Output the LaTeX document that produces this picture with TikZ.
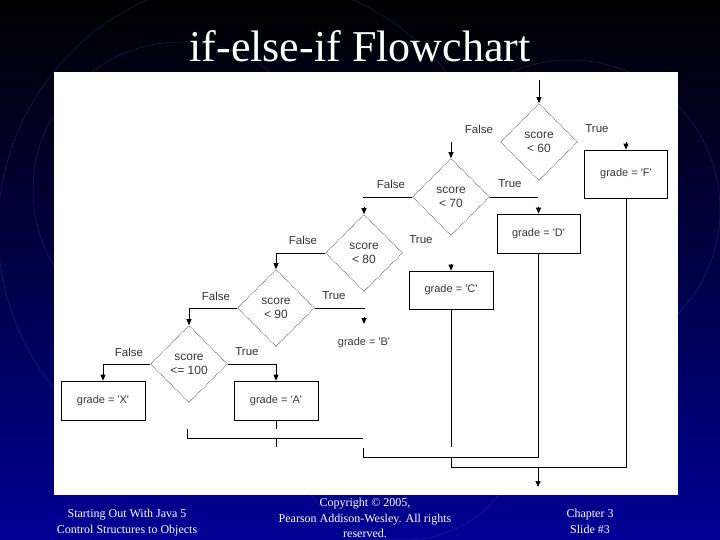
\documentclass[tikz,border=0pt]{standalone}
\usepackage{fontspec}
\setmainfont{Liberation Serif}
\newfontfamily\lsans{Liberation Sans}
\usetikzlibrary{shapes.geometric,arrows.meta}
\newcommand\qq{\textquotesingle}
\definecolor{navy}{RGB}{0,0,150}
\definecolor{arcc}{RGB}{70,80,190}
\begin{document}
\begin{tikzpicture}[x=1pt,y=-1pt,
  dec/.style={diamond, draw=black!85, densely dotted, line width=0.6pt, minimum width=77pt, minimum height=77pt, inner sep=0pt, font=\lsans\fontsize{12}{14}\selectfont, text=black!78, align=center},
  box/.style={rectangle, draw=black, line width=0.7pt, inner sep=0pt, font=\lsans\fontsize{11}{12}\selectfont, text=black!78},
  lab/.style={font=\lsans\fontsize{11.5}{13}\selectfont, text=black!80, inner sep=0pt},
  ln/.style={draw=black, line width=0.8pt},
  arr/.style={ln, -{Triangle[width=5pt,length=6pt]}},
  foot/.style={text=white, font=\fontsize{12}{15.5}\selectfont, align=center, inner sep=0pt},
  arcline/.style={draw=arcc, line width=0.5pt, opacity=0.4}
]
\useasboundingbox (0,0) rectangle (720,540);
\shade[top color=black, bottom color=navy, middle color={rgb,255:red,0;green,0;blue,70}] (0,0) rectangle (720,540);
\begin{scope}
\clip (0,0) rectangle (720,540);
\draw[arcline] (181,190) circle (148);
\draw[arcline] (250,230) circle (252);
\draw[arcline] (570,210) circle (150);
\draw[arcline] (405,420) circle (120);
\end{scope}
% title
\node[text=white, font=\fontsize{44}{48}\selectfont, anchor=base, inner sep=0pt] (title) at (360,62) {if-else-if Flowchart};
% panel
\fill[white] (54,72) rectangle (678,495);
% decisions
\node[dec] (d1) at (539,142) {score\\< 60};
\node[dec] (d2) at (451,197) {score\\< 70};
\node[dec] (d3) at (364,253) {score\\< 80};
\node[dec] (d4) at (276,308) {score\\< 90};
\node[dec] (d5) at (189,364) {score\\<= 100};
% boxes
\node[box, minimum width=83pt, minimum height=48pt] (bF) at (626,174) {grade = \qq F\qq};
\node[box, minimum width=83pt, minimum height=39pt] (bD) at (538.5,233.5) {grade = \qq D\qq};
\node[box, minimum width=84pt, minimum height=38pt] (bC) at (451,290) {grade = \qq C\qq};
\node[font=\lsans\fontsize{11}{12}\selectfont, text=black!78, inner sep=0pt] (tB) at (364,343) {grade = \qq B\qq};
\node[box, minimum width=84pt, minimum height=39pt] (bA) at (276,400.5) {grade = \qq A\qq};
\node[box, minimum width=84pt, minimum height=39pt] (bX) at (103,400.5) {grade = \qq X\qq};
% labels
\node[lab] (f1) at (479,129) {False};
\node[lab] (t1) at (597,129) {True};
\node[lab] (f2) at (391,184) {False};
\node[lab] (t2) at (510,184) {True};
\node[lab] (f3) at (303,240) {False};
\node[lab] (t3) at (421,240) {True};
\node[lab] (f4) at (216,296) {False};
\node[lab] (t4) at (334,296) {True};
\node[lab] (f5) at (129,352) {False};
\node[lab] (t5) at (247,352) {True};
% connectors
\coordinate (start) at (539,80);
\draw[arr] (start) -- (d1.north);
\draw[arr] ([yshift=8pt]bF.north) -- (bF.north);
\draw[arr] ([yshift=16pt]d2.north) -- (d2.north);
\draw[ln] (d2.east) -- ++(48,0);
\draw[arr] ([yshift=7pt]bD.north) -- (bD.north);
\draw[ln] (d2.west) -- ++(-49,0);
\draw[arr] ([yshift=7pt]d3.north) -- (d3.north);
\draw[arr] ([yshift=7pt]bC.north) -- (bC.north);
\draw[arr] (d3.west) -| (d4.north);
\draw[ln] (d4.east) -- ++(50,0);
\coordinate (bB) at (364,317);
\draw[arr] (bB) -- ++(0,7);
\draw[arr] (d4.west) -| (d5.north);
\draw[arr] (d5.west) -| (bX.north);
\draw[arr] (d5.east) -| (bA.north);
\draw[ln] (bA.south) -- ++(0,9);
\coordinate (m1) at (276,438);
\draw[ln] (m1) -- ++(0,9);
\coordinate (l1) at (187,429);
\coordinate (l2) at (187,438);
\coordinate (l3) at (363,438);
\draw[ln] (l1) -- (l2) -- (l3);
\coordinate (m2) at (363,448);
\coordinate (m2b) at (363,457);
\draw[ln] (m2) -- (m2b) -| (bD.south);
\coordinate (cEnd) at (451,447);
\draw[ln] (bC.south) -- (cEnd);
\coordinate (m3) at (451,457);
\coordinate (m3b) at (451,467);
\draw[ln] (m3) -- (m3b) -| (bF.south);
\coordinate (ex) at (538,467);
\coordinate (exEnd) at (538,487);
\draw[arr] (ex) -- (exEnd);
% footer
\begin{scope}
\clip (0,0) rectangle (720,540);
\node[foot, anchor=base] (fl1) at (127,517) {Starting Out With Java 5};
\node[foot, anchor=base] (fl2) at (127,533) {Control Structures to Objects};
\node[foot, anchor=base] (fl3) at (127,549) {By Tony Gaddis};
\end{scope}
\node[foot, anchor=base] (fc1) at (365,506) {Copyright \textcopyright{} 2005,};
\node[foot, anchor=base] (fc2) at (365,522) {Pearson Addison-Wesley. All rights};
\node[foot, anchor=base] (fc3) at (365,537) {reserved.};
\node[foot, anchor=base] (fr1) at (590,517) {Chapter 3};
\node[foot, anchor=base] (fr2) at (590,533) {Slide \#3};
\end{tikzpicture}
\end{document}
